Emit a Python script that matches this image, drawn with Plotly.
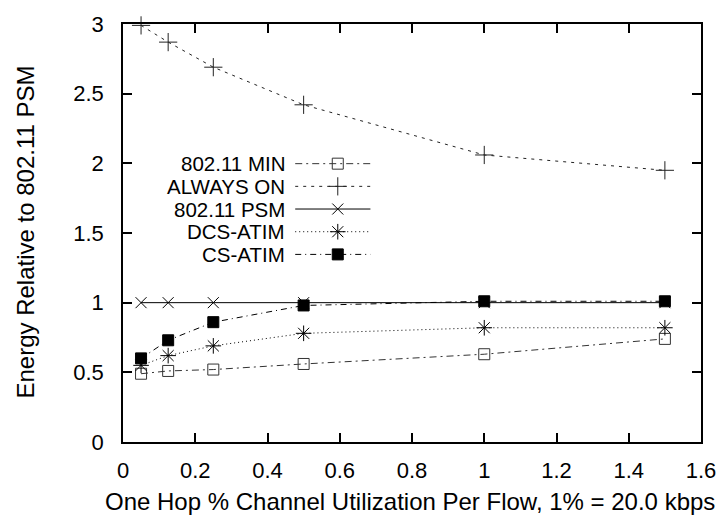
import plotly.graph_objects as go

# ---- data ----
x_util = [0.05, 0.125, 0.25, 0.5, 1.0, 1.5]
series_names = ["802.11 MIN", "ALWAYS ON", "802.11 PSM", "DCS-ATIM", "CS-ATIM"]
min_vals = [0.49, 0.51, 0.52, 0.56, 0.63, 0.74]
always_on = [2.99, 2.87, 2.69, 2.42, 2.06, 1.95]
psm_vals = [1.0, 1.0, 1.0, 1.0, 1.0, 1.0]
dcs_atim = [0.55, 0.62, 0.69, 0.78, 0.82, 0.82]
cs_atim = [0.60, 0.73, 0.86, 0.98, 1.01, 1.01]
x_ticks = [0, 0.2, 0.4, 0.6, 0.8, 1, 1.2, 1.4, 1.6]
y_ticks = [0, 0.5, 1, 1.5, 2, 2.5, 3]
x_title = "One Hop % Channel Utilization Per Flow, 1% = 20.0 kbps"
y_title = "Energy Relative to 802.11 PSM"

values = [min_vals, always_on, psm_vals, dcs_atim, cs_atim]
styles = [
    dict(dash="7px,4px,2px,4px", symbol="square-open", size=11, color="#333333"),
    dict(dash="3px,5px", symbol="cross-thin-open", size=13, color="#222222"),
    dict(dash="solid", symbol="x-thin-open", size=11, color="#000000"),
    dict(dash="1px,3px", symbol="asterisk-open", size=13, color="#000000"),
    dict(dash="6px,4px,1px,4px", symbol="square", size=11, color="#000000"),
]

FONT = "Liberation Sans, Arial, Helvetica, sans-serif"
W, H = 728, 517
L, R, T, B = 123, 21, 20, 75
pw, ph = W - L - R, H - T - B

fig = go.Figure()
for name, vals, st in zip(series_names, values, styles):
    fig.add_trace(go.Scatter(
        x=x_util, y=vals, mode="lines+markers", name=name, showlegend=False,
        line=dict(color=st["color"], width=1, dash=st["dash"]),
        marker=dict(symbol=st["symbol"], size=st["size"], color=st["color"],
                    line=dict(color=st["color"], width=1)),
        cliponaxis=False,
    ))

def px_to_paper_x(px):
    return (px - L) / pw
def py_to_paper_y(py):
    return (H - B - py) / ph

# ---- custom gnuplot-style key (text left, sample right) ----
row0, row_step = 161.0, 22.9
line_x0, line_x1, mark_x, text_right = 297, 373, 340, 288
for i, (name, st) in enumerate(zip(series_names, styles)):
    yy = py_to_paper_y(row0 + i * row_step)
    fig.add_trace(go.Scatter(
        x=[px_to_paper_x(line_x0), px_to_paper_x(line_x1)], y=[yy, yy],
        xaxis="x2", yaxis="y2", mode="lines", showlegend=False, hoverinfo="skip",
        line=dict(color=st["color"], width=1, dash=st["dash"]),
    ))
    fig.add_trace(go.Scatter(
        x=[px_to_paper_x(mark_x)], y=[yy],
        xaxis="x2", yaxis="y2", mode="markers", showlegend=False, hoverinfo="skip",
        marker=dict(symbol=st["symbol"], size=st["size"], color=st["color"],
                    line=dict(color=st["color"], width=1)),
    ))
    fig.add_annotation(
        x=px_to_paper_x(text_right), y=yy, xref="paper", yref="paper",
        text=name, showarrow=False, xanchor="right", yanchor="middle",
        borderpad=0,
        font=dict(family=FONT, size=20.5, color="black"),
    )

# axis titles placed like gnuplot
fig.add_annotation(
    x=px_to_paper_x(23.5), y=py_to_paper_y(230), xref="paper", yref="paper",
    text=y_title, textangle=-90, showarrow=False, xanchor="center", yanchor="middle",
    font=dict(family=FONT, size=24, color="black"),
)
fig.add_annotation(
    x=px_to_paper_x(413), y=py_to_paper_y(502), xref="paper", yref="paper",
    text=x_title, showarrow=False, xanchor="center", yanchor="middle",
    font=dict(family=FONT, size=24, color="black"),
)

axis_common = dict(
    showgrid=False, zeroline=False, showline=True, linecolor="black", linewidth=1.5,
    mirror="allticks", ticks="inside", ticklen=9, tickwidth=1.5, tickcolor="black",
    tickfont=dict(family=FONT, size=22, color="black"),
)
fig.update_layout(
    width=W, height=H,
    margin=dict(l=L, r=R, t=T, b=B),
    paper_bgcolor="white", plot_bgcolor="white",
    font=dict(family=FONT, size=22, color="black"),
    xaxis=dict(range=[0, 1.6], tickvals=x_ticks, ticktext=[f"{v:g}" for v in x_ticks],
               ticklabelstandoff=8, **axis_common),
    yaxis=dict(range=[0, 3], tickvals=y_ticks, ticktext=[f"{v:g}" for v in y_ticks],
               ticklabelstandoff=13, **axis_common),
    xaxis2=dict(overlaying="x", range=[0, 1], visible=False, domain=[0, 1]),
    yaxis2=dict(overlaying="y", range=[0, 1], visible=False, domain=[0, 1]),
)

fig.write_html("out.html")
